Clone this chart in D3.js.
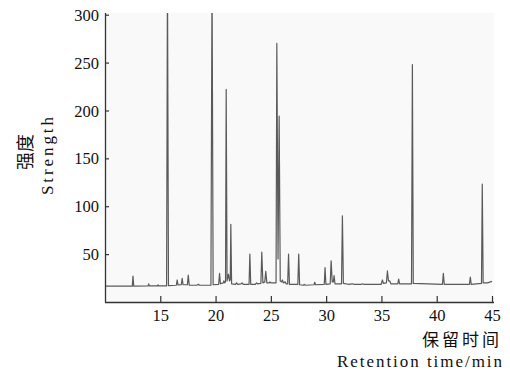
<!DOCTYPE html>
<html>
<head>
<meta charset="utf-8">
<script src="https://cdn.jsdelivr.net/npm/d3@7"></script>
<style>
  body { margin: 0; background: #fff; }
  svg { display: block; }
</style>
</head>
<body>
<div id="chart"></div>
<script>
// Retention time (min) and intensity
const traceTime = [
  10.0, 12.4, 12.47, 12.53, 12.6, 13.9, 13.95, 14.0, 14.75, 14.8, 14.85,
  15.57, 15.65, 15.74, 16.45, 16.53, 16.6, 16.9, 16.98, 17.06, 17.45, 17.53, 17.62,
  18.3, 18.45, 18.55, 19.58, 19.68, 19.78, 20.28, 20.36, 20.44, 20.7, 20.75, 20.82,
  20.9, 20.96, 21.04, 21.17, 21.26, 21.33, 21.38, 21.45, 21.8, 21.9, 22.0, 22.3, 22.4, 22.5,
  23.03, 23.1, 23.18, 23.6, 23.7, 23.8, 24.1, 24.18, 24.28, 24.45, 24.54, 24.64,
  24.85, 24.92, 25.0, 25.47, 25.54, 25.65, 25.75, 25.85, 25.95, 26.05, 26.12,
  26.3, 26.38, 26.52, 26.6, 26.68, 27.44, 27.52, 27.6, 27.95, 28.02, 28.1,
  28.9, 28.97, 29.04, 29.83, 29.9, 29.98, 30.37, 30.45, 30.55, 30.65, 30.72, 30.8,
  31.39, 31.47, 31.56, 32.0, 32.4, 32.5, 33.2, 33.3, 33.4, 34.98, 35.09, 35.18,
  35.45, 35.54, 35.64, 35.75, 35.85, 36.48, 36.56, 36.64, 37.72, 37.8, 37.88,
  40.52, 40.6, 40.68, 42.96, 43.04, 43.12, 44.05, 44.12, 44.2, 44.6, 45.0
];
const traceValue = [
  16.5, 16.5, 16.6, 27, 16.6, 16.8, 19, 16.8, 16.8, 18, 16.8,
  16.8, 340, 17, 17.5, 23, 17.8, 18, 24.7, 18, 18, 28, 17.6,
  17.5, 18.5, 17.5, 17.5, 340, 18, 18.5, 30, 19, 20, 22, 20,
  21, 222, 22, 29, 22, 23, 81, 19, 18.5, 20, 18.5, 19, 20, 18.5,
  18.5, 50, 18.5, 18.5, 20, 19, 19.5, 52, 20, 21, 32, 20,
  20, 21, 20, 20, 270, 45, 194, 22, 21, 23, 20,
  21, 19, 19, 50, 18.5, 18.5, 50, 18, 17.5, 18.5, 17.5,
  18, 20.6, 18, 18.5, 36, 18.5, 19, 43, 21, 21, 27.5, 19,
  19, 90, 19.5, 18.5, 19, 18.5, 18.5, 19, 18.5, 18.5, 23, 19.5,
  20, 32.4, 22, 22, 19, 19, 24, 19, 19, 248, 19.5,
  18.5, 30, 18.5, 18.5, 26, 18.5, 19.5, 123, 20, 20, 21.5
];

const xTicks = [15, 20, 25, 30, 35, 40, 45];
const yTicks = [50, 100, 150, 200, 250, 300];

const serifFont = "'Liberation Serif', 'DejaVu Serif', serif";
const cjkFont = "'Noto Sans CJK SC', sans-serif";

const width = 510, height = 373;
const margin = {top: 13, right: 16, bottom: 71, left: 105};
const innerH = height - margin.top - margin.bottom;

const x = d3.scaleLinear().domain([10, 45]).range([0, 387]);
const y = d3.scaleLinear().domain([0, 300]).range([innerH, 1.7]);

const svg = d3.select('#chart').append('svg')
    .attr('width', width)
    .attr('height', height);

const chart = svg.append('g')
    .attr('transform', `translate(${margin.left},${margin.top})`);

// light plot background
chart.append('rect')
    .attr('width', 389)
    .attr('height', innerH)
    .attr('fill', '#f9f9f9');

svg.append('defs').append('clipPath')
    .attr('id', 'plot-clip')
  .append('rect')
    .attr('width', 389)
    .attr('height', innerH);

const points = traceTime.map((t, i) => [t, traceValue[i]]);

const line = d3.line()
    .x(d => x(d[0]))
    .y(d => y(d[1]));

chart.append('path')
    .datum(points)
    .attr('clip-path', 'url(#plot-clip)')
    .attr('fill', 'none')
    .attr('stroke', '#5a5a5a')
    .attr('stroke-width', 1.2)
    .attr('stroke-linejoin', 'round')
    .attr('d', line);

// axes, ticks pointing inwards
const xAxis = chart.append('g')
    .attr('transform', `translate(0,${innerH})`)
    .call(d3.axisBottom(x).tickValues(xTicks).tickSizeInner(-6).tickSizeOuter(0).tickPadding(7));

const yAxis = chart.append('g')
    .call(d3.axisLeft(y).tickValues(yTicks).tickSizeInner(-4).tickSizeOuter(0).tickPadding(6));

[xAxis, yAxis].forEach(a => {
  a.attr('font-family', serifFont).attr('font-size', 16.5);
  a.selectAll('.tick text').attr('fill', '#111');
  a.select('.domain').attr('stroke', '#333').attr('stroke-width', 1.3);
  a.selectAll('.tick line').attr('stroke', '#333').attr('stroke-width', 1.2);
});
xAxis.select('.domain').attr('d', `M0,0.5H389`);
yAxis.select('.domain').attr('d', `M0.5,${innerH}V0`);
yAxis.selectAll('.tick text').attr('dy', '0.34em');

// axis titles
svg.append('text')
    .attr('transform', 'translate(32,152) rotate(-90)')
    .attr('text-anchor', 'middle')
    .attr('font-family', cjkFont)
    .attr('font-size', 18)
    .attr('fill', '#111')
    .text('强度');

svg.append('text')
    .attr('transform', 'translate(53,156) rotate(-90)')
    .attr('text-anchor', 'middle')
    .attr('textLength', 78)
    .attr('lengthAdjust', 'spacing')
    .attr('font-family', serifFont)
    .attr('font-size', 17)
    .attr('fill', '#111')
    .text('Strength');

svg.append('text')
    .attr('x', 502)
    .attr('y', 346)
    .attr('text-anchor', 'end')
    .attr('font-family', cjkFont)
    .attr('font-size', 17)
    .attr('letter-spacing', 3)
    .attr('fill', '#111')
    .text('保留时间');

svg.append('text')
    .attr('x', 502)
    .attr('y', 367)
    .attr('text-anchor', 'end')
    .attr('textLength', 165)
    .attr('lengthAdjust', 'spacing')
    .attr('font-family', serifFont)
    .attr('font-size', 17)
    .attr('fill', '#111')
    .text('Retention time/min');
</script>
</body>
</html>
